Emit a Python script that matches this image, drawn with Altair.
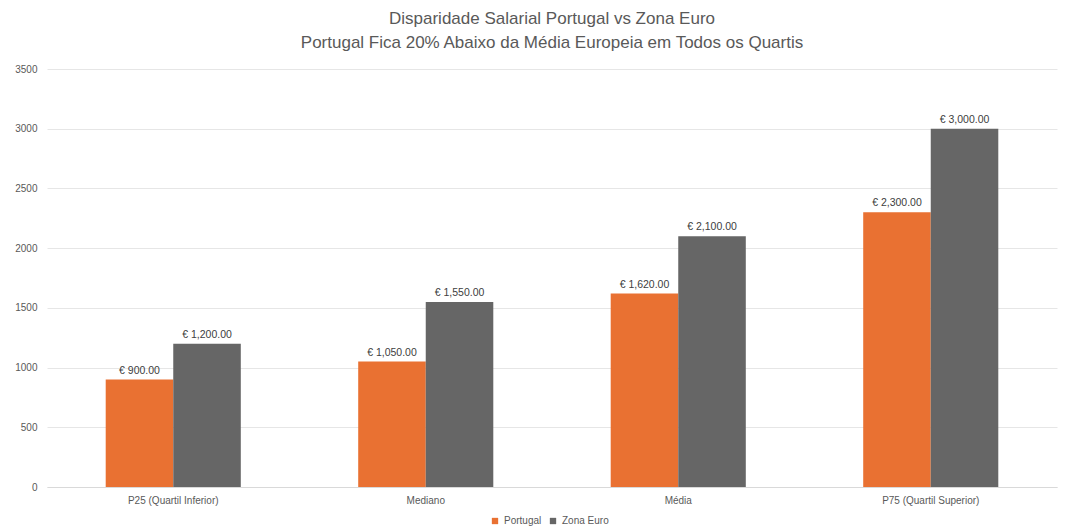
import altair as alt
import pandas as pd

categorias = ["P25 (Quartil Inferior)", "Mediano", "Média", "P75 (Quartil Superior)"]
series = ["Portugal", "Zona Euro"]
portugal = [900, 1050, 1620, 2300]
zona_euro = [1200, 1550, 2100, 3000]
cores = ["#E97132", "#666666"]

rows = []
for i, c in enumerate(categorias):
    rows.append({"cat": c, "serie": "Portugal", "valor": portugal[i]})
    rows.append({"cat": c, "serie": "Zona Euro", "valor": zona_euro[i]})
df = pd.DataFrame(rows)
df["rotulo"] = df["valor"].map(lambda v: "€ {:,.2f}".format(v))

FONT = "Liberation Sans"

base = alt.Chart(df).encode(
    x=alt.X("cat:N", sort=categorias, title=None,
            scale=alt.Scale(paddingInner=0.465, paddingOuter=0.2325),
            axis=alt.Axis(labelAngle=0, labelFontSize=10, labelColor="#595959",
                          labelFont=FONT, domain=True, domainColor="#d9d9d9",
                          ticks=False, labelPadding=8)),
    xOffset=alt.XOffset("serie:N", sort=series),
)

bars = base.mark_bar().encode(
    y=alt.Y("valor:Q", title=None,
            scale=alt.Scale(domain=[0, 3500]),
            axis=alt.Axis(values=[0, 500, 1000, 1500, 2000, 2500, 3000, 3500],
                          format="d",
                          labelFontSize=10, labelColor="#595959", labelFont=FONT,
                          gridColor="#e6e6e6", domain=False, ticks=False,
                          labelPadding=10)),
    color=alt.Color("serie:N", sort=series,
                    scale=alt.Scale(domain=series, range=cores),
                    legend=alt.Legend(title=None, orient="none", direction="horizontal",
                                      legendX=443, legendY=447,
                                      symbolType="square", symbolSize=40,
                                      labelFontSize=10, labelColor="#595959",
                                      labelFont=FONT, columnPadding=6,
                                      symbolStrokeWidth=0)),
)

labels = base.mark_text(dy=-9, fontSize=10.5, color="#404040", font=FONT).encode(
    y=alt.Y("valor:Q"),
    text="rotulo:N",
)

chart = (bars + labels).properties(
    width=1010, height=418,
    title=alt.TitleParams(
        text=["Disparidade Salarial Portugal vs Zona Euro",
              "Portugal Fica 20% Abaixo da Média Europeia em Todos os Quartis"],
        fontSize=17, font=FONT, fontWeight="normal", color="#595959",
        anchor="middle", lineHeight=24, offset=12),
    autosize="none",
    padding={"left": 39, "top": 61, "right": 2, "bottom": 44},
).configure_view(stroke=None)

chart.save("out.html", embed_options={"renderer": "svg", "actions": False})
